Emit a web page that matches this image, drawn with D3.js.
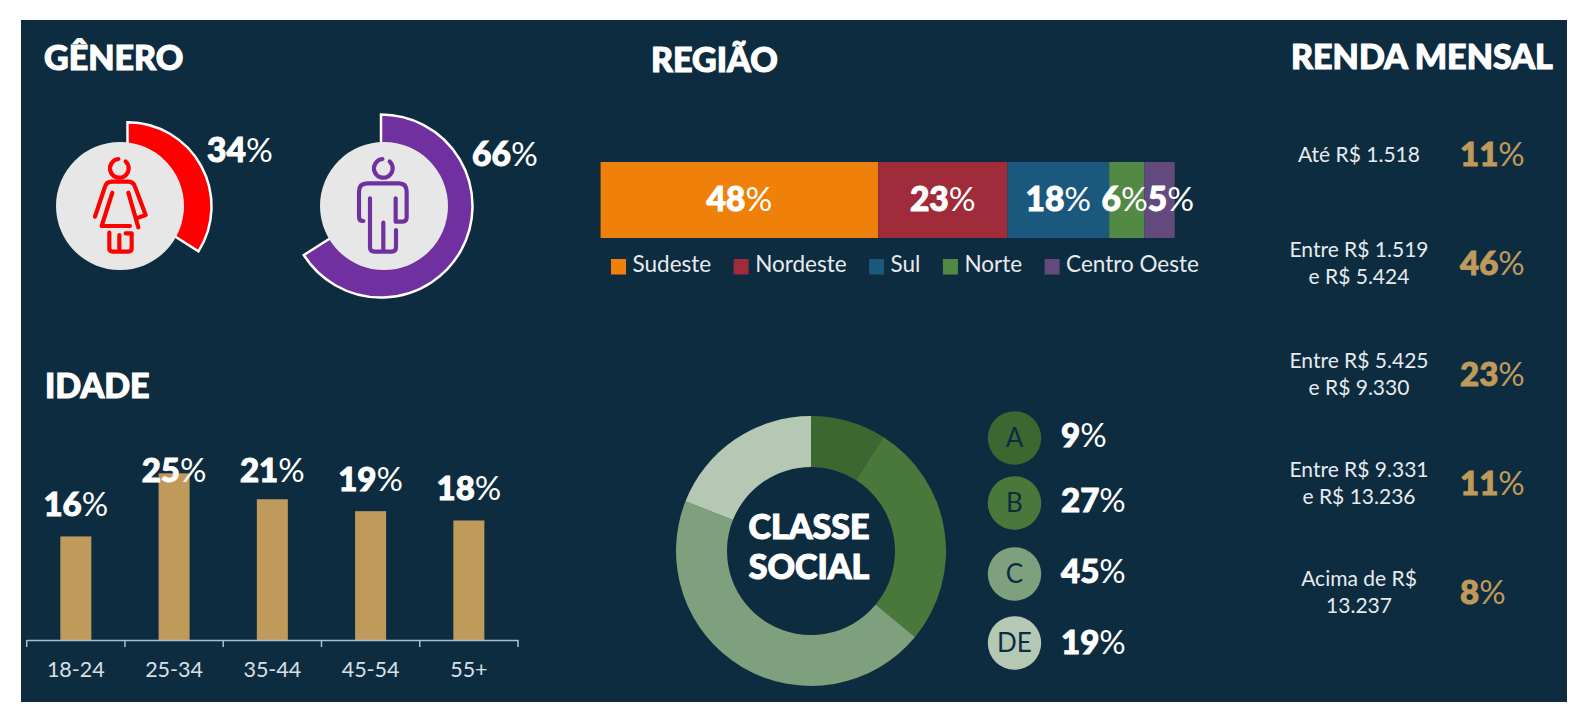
<!DOCTYPE html>
<html>
<head>
<meta charset="utf-8">
<script src="https://cdn.jsdelivr.net/npm/d3@7"></script>
<style>
  html, body { margin: 0; padding: 0; background: #fff; }
  svg { display: block; }
  text { font-family: Lato, "Open Sans", sans-serif; }
</style>
</head>
<body>
<svg></svg>
<script>
// DATA =====================================
var genderValues = [34, 66];
var genderColors = ["#ff0000", "#7030a0"];

var ageCategories = ["18-24", "25-34", "35-44", "45-54", "55+"];
var ageValues = [15.6, 25.1, 21.2, 19.4, 18];

var regionNames = ["Sudeste", "Nordeste", "Sul", "Norte", "Centro Oeste"];
var regionValues = [48.3, 22.5, 17.7, 6.1, 5.3];
var regionColors = ["#ef8009", "#a02b3a", "#1b587e", "#528a45", "#624a7c"];

var classNames = ["A", "B", "C", "DE"];
var classValues = [9, 27, 45, 19];
var classColors = ["#3c6730", "#4a783b", "#7fa07c", "#b5c8b4"];

var incomeLines = [
  ["Até R$ 1.518"],
  ["Entre R$ 1.519", "e R$ 5.424"],
  ["Entre R$ 5.425", "e R$ 9.330"],
  ["Entre R$ 9.331", "e R$ 13.236"],
  ["Acima de R$", "13.237"]
];
var incomeValues = [11, 46, 23, 11, 8];

// SETUP ====================================
var width = 1591, height = 728;
var navy = "#0e2c40", gold = "#bf9a5b";

var svg = d3.select("svg")
    .attr("width", width)
    .attr("height", height);

svg.append("rect")
    .attr("x", 21)
    .attr("y", 20)
    .attr("width", 1546)
    .attr("height", 682)
    .attr("fill", navy);

// Lato stops at bold here, a thin stroke brings it up to the heavy look
function title(txt, x, y) {
  return svg.append("text")
      .attr("x", x)
      .attr("y", y)
      .attr("fill", "#fff")
      .attr("stroke", "#fff")
      .attr("stroke-width", 1.1)
      .attr("font-size", 34)
      .attr("font-weight", 900)
      .text(txt);
}

// number in heavy weight, the % sign thin
function percent(sel, size, color) {
  var c = color || "#fff";
  sel.attr("font-size", size)
      .attr("font-weight", 900)
      .attr("fill", c)
      .each(function(d) {
        var t = d3.select(this);
        var v = t.attr("data-v");
        t.append("tspan").attr("stroke", c).attr("stroke-width", 1).text(v);
        t.append("tspan").attr("font-weight", 400).text("%");
      });
}

title("GÊNERO", 44, 70);
title("REGIÃO", 651, 72);
title("IDADE", 45, 398);
title("RENDA MENSAL", 1291, 69);

// GENDER ===================================
var angle = d3.scaleLinear().domain([0, 100]).range([0, 2 * Math.PI]);
var genderArcCenters = [[127.5, 206.3], [381, 206]];
var genderRadius = [84, 91.5];
var genderDiscs = [[120, 206], [384, 206]];
var genderLabels = [[207, 162], [472, 166]];

var gender = svg.selectAll("g.gender")
    .data(genderValues)
    .enter()
    .append("g")
    .attr("class", "gender");

gender.append("path")
    .attr("transform", function(d, i) { return "translate(" + genderArcCenters[i] + ")"; })
    .attr("d", function(d, i) {
      return d3.arc()({ innerRadius: 0, outerRadius: genderRadius[i], startAngle: 0, endAngle: angle(d) });
    })
    .attr("fill", function(d, i) { return genderColors[i]; })
    .attr("stroke", "#fff")
    .attr("stroke-width", 2.5);

gender.append("circle")
    .attr("cx", function(d, i) { return genderDiscs[i][0]; })
    .attr("cy", function(d, i) { return genderDiscs[i][1]; })
    .attr("r", 64)
    .attr("fill", "#e7e7e7");

gender.append("text")
    .attr("x", function(d, i) { return genderLabels[i][0]; })
    .attr("y", function(d, i) { return genderLabels[i][1]; })
    .attr("data-v", function(d) { return d; })
    .call(percent, 33.5);

// icons, drawn in a 3x grid
var womanIcon = "M45 230L75 140Q80 125 95 125L145 125Q160 125 165 140L197 225L175 233"
    + "M97 158L65 258L150 258M145 158L175 262"
    + "M88 278L88 325Q88 335 98 335L118 335L118 285M118 335L145 335Q155 335 155 325L155 280L137 280";
var manIcon = "M85 243Q72 243 72 230L72 155Q72 130 97 130L192 130Q215 130 215 155L215 232Q215 245 203 245L185 245"
    + "M105 175L105 322Q105 335 118 335L170 335Q183 335 183 322L183 270"
    + "M182 175L182 245M145 248L145 335";
var headArc = d3.arc()({ innerRadius: 28, outerRadius: 28, startAngle: 0.75, endAngle: 2 * Math.PI - 0.1 });

function icon(path, x, y, cx, color) {
  var g = svg.append("g")
      .attr("transform", "translate(" + x + "," + y + ") scale(0.3333)")
      .attr("fill", "none")
      .attr("stroke", color)
      .attr("stroke-width", 12.5)
      .attr("stroke-linecap", "round")
      .attr("stroke-linejoin", "round");
  g.append("path").attr("d", path);
  g.append("path").attr("transform", "translate(" + cx + ",85)").attr("d", headArc);
}
icon(womanIcon, 80, 140, 118, genderColors[0]);
icon(manIcon, 335, 140, 145, genderColors[1]);

// AGE ======================================
var ageX = d3.scaleBand().domain(ageCategories).range([26.7, 518]).paddingInner(0).paddingOuter(0);
var ageY = d3.scaleLinear().domain([0, 25]).range([640, 474]);

var ageBars = svg.selectAll("rect.age")
    .data(ageValues)
    .enter()
    .append("rect")
    .attr("class", "age")
    .attr("x", function(d, i) { return ageX(ageCategories[i]) + ageX.bandwidth() / 2 - 15.5; })
    .attr("y", function(d) { return ageY(d); })
    .attr("width", 31)
    .attr("height", function(d) { return 640 - ageY(d); })
    .attr("fill", gold);

var ageAxis = svg.append("g")
    .attr("transform", "translate(0,640)")
    .call(d3.axisBottom(ageX).tickSize(0).tickPadding(22));
ageAxis.select(".domain").attr("stroke", "#a8c0d6").attr("stroke-width", 1.5);
ageAxis.selectAll("text")
    .attr("font-size", 21.5)
    .attr("font-weight", 400)
    .attr("fill", "#d8e0e6")
    .style("font-family", "Lato");

// tick marks sit between the categories
ageAxis.selectAll("line.sep")
    .data(d3.range(ageCategories.length + 1))
    .enter()
    .append("line")
    .attr("class", "sep")
    .attr("x1", function(d) { return 26.7 + d * ageX.step(); })
    .attr("x2", function(d) { return 26.7 + d * ageX.step(); })
    .attr("y1", 0)
    .attr("y2", 7)
    .attr("stroke", "#a8c0d6")
    .attr("stroke-width", 1.5);

// label above the bar, held down at the top of the plot
svg.selectAll("text.age")
    .data(ageValues)
    .enter()
    .append("text")
    .attr("class", "age")
    .attr("text-anchor", "middle")
    .attr("x", function(d, i) { return ageX(ageCategories[i]) + ageX.bandwidth() / 2; })
    .attr("y", function(d) { return Math.max(ageY(d) - 20, 482); })
    .attr("data-v", function(d) { return Math.round(d); })
    .call(percent, 33);

// REGION ===================================
var regionX = d3.scaleLinear().domain([0, d3.sum(regionValues)]).range([600.6, 1174.7]);
var regionStack = d3.cumsum(regionValues);

svg.selectAll("rect.region")
    .data(regionValues)
    .enter()
    .append("rect")
    .attr("class", "region")
    .attr("x", function(d, i) { return regionX(regionStack[i] - d); })
    .attr("y", 162)
    .attr("width", function(d) { return regionX(d) - regionX(0); })
    .attr("height", 76)
    .attr("fill", function(d, i) { return regionColors[i]; });

// centred in the segment, pushed right when it would hit the previous label
var lastRight = 0;
svg.selectAll("text.region")
    .data(regionValues)
    .enter()
    .append("text")
    .attr("class", "region")
    .attr("text-anchor", "middle")
    .attr("y", 211)
    .attr("data-v", function(d) { return Math.round(d); })
    .call(percent, 33.5)
    .attr("x", function(d, i) {
      var w = this.getComputedTextLength();
      var c = Math.max(regionX(regionStack[i] - d / 2) - (i > 2 ? 2 : 0), lastRight + w / 2);
      lastRight = c + w / 2;
      return c;
    });

var legendX = 611;
regionNames.forEach(function(name, i) {
  svg.append("rect")
      .attr("x", legendX)
      .attr("y", 259)
      .attr("width", 15)
      .attr("height", 15.5)
      .attr("fill", regionColors[i]);
  var t = svg.append("text")
      .attr("x", legendX + 21.5)
      .attr("y", 272)
      .attr("font-size", 22.5)
      .attr("fill", "#e6ebef")
      .text(name);
  legendX += 21.5 + t.node().getComputedTextLength() + 22.5;
});

// SOCIAL CLASS =============================
var pie = d3.pie().sort(null)(classValues);
var donut = d3.arc().innerRadius(84).outerRadius(135);

svg.append("g")
    .attr("transform", "translate(811,551)")
    .selectAll("path")
    .data(pie)
    .enter()
    .append("path")
    .attr("d", donut)
    .attr("fill", function(d, i) { return classColors[i]; });

svg.selectAll("text.center")
    .data(["CLASSE", "SOCIAL"])
    .enter()
    .append("text")
    .attr("class", "center")
    .attr("x", 809)
    .attr("y", function(d, i) { return 539 + i * 40; })
    .attr("text-anchor", "middle")
    .attr("font-size", 34)
    .attr("font-weight", 900)
    .attr("fill", "#fff")
    .attr("stroke", "#fff")
    .attr("stroke-width", 1.1)
    .text(function(d) { return d; });

var classY = d3.scaleOrdinal().domain(classNames).range([438, 503, 574, 643]);

svg.selectAll("circle.class")
    .data(classNames)
    .enter()
    .append("circle")
    .attr("class", "class")
    .attr("cx", 1014.5)
    .attr("cy", function(d) { return classY(d); })
    .attr("r", 26.7)
    .attr("fill", function(d, i) { return classColors[i]; });

svg.selectAll("text.classname")
    .data(classNames)
    .enter()
    .append("text")
    .attr("class", "classname")
    .attr("x", 1014.5)
    .attr("y", function(d) { return classY(d) + 9; })
    .attr("text-anchor", "middle")
    .attr("font-size", 26)
    .attr("font-weight", 400)
    .attr("fill", navy)
    .text(function(d) { return d; });

svg.selectAll("text.classvalue")
    .data(classValues)
    .enter()
    .append("text")
    .attr("class", "classvalue")
    .attr("x", 1061)
    .attr("y", function(d, i) { return classY(classNames[i]) + (i == 3 ? 11 : 9); })
    .attr("data-v", function(d) { return d; })
    .call(percent, 33);

// INCOME ===================================
var incomeY = d3.scaleOrdinal().domain(d3.range(5)).range([154, 263, 373.5, 483, 591.5]);

incomeLines.forEach(function(lines, i) {
  var firstY = incomeY(i) + 7.5 - (lines.length - 1) * 13.5;
  lines.forEach(function(line, j) {
    svg.append("text")
        .attr("x", 1359)
        .attr("y", firstY + j * 27)
        .attr("text-anchor", "middle")
        .attr("font-size", 21)
        .attr("fill", "#e6ebef")
        .text(line);
  });
});

svg.selectAll("text.income")
    .data(incomeValues)
    .enter()
    .append("text")
    .attr("class", "income")
    .attr("x", 1460)
    .attr("y", function(d, i) { return incomeY(i) + 12; })
    .attr("data-v", function(d) { return d; })
    .call(percent, 33, gold);
</script>
</body>
</html>
